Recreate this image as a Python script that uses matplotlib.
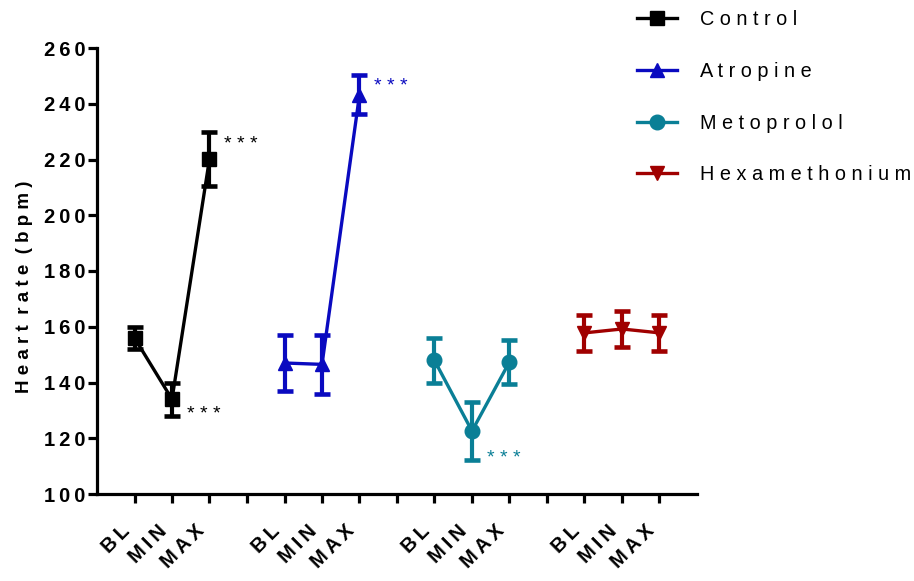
import matplotlib
matplotlib.use("Agg")
import matplotlib.pyplot as plt
from matplotlib.transforms import ScaledTranslation

plt.rcParams['font.family'] = ['Liberation Sans', 'DejaVu Sans']

# groups and conditions
groups = ["Control", "Atropine", "Metoprolol", "Hexamethonium"]
conditions = ["BL", "MIN", "MAX"]

# mean heart rate (bpm) and error
control = [156.0, 134.0, 220.2]
control_err = [4.0, 6.0, 9.8]
atropine = [147.0, 146.5, 243.2]
atropine_err = [10.0, 10.5, 7.0]
metoprolol = [147.9, 122.6, 147.4]
metoprolol_err = [8.0, 10.5, 8.0]
hexamethonium = [157.8, 159.2, 157.8]
hexamethonium_err = [6.5, 6.3, 6.5]

# significance marks: (group index, condition index)
signif = [(0, 1), (0, 2), (1, 2), (2, 1)]

colors = ["#000000", "#0A0AC0", "#0A7F96", "#A00000"]
markers = ["s", "^", "o", "v"]


def spaced(s, sep=" "):
    # wide letter spacing like the original
    out = sep.join(s)
    return out.replace(sep + " " + sep, "  ")


means = [control, atropine, metoprolol, hexamethonium]
errs = [control_err, atropine_err, metoprolol_err, hexamethonium_err]

fig = plt.figure(figsize=(9.14, 5.81), dpi=100)
ax = fig.add_axes([97 / 914, 1 - 494 / 581, 600 / 914, 446 / 581])

xpos_all = []
for g in range(len(groups)):
    xs = [4 * g + 1 + i for i in range(len(conditions))]
    xpos_all.append(xs)
    ax.errorbar(xs, means[g], yerr=errs[g], fmt="none", ecolor=colors[g],
                elinewidth=3, capsize=6, capthick=3.3, zorder=3)
    ax.plot(xs, means[g], color=colors[g], lw=2.4, marker=markers[g],
            ms=10.5, label=spaced(groups[g]), zorder=4)

# stars
for g, i in signif:
    x = xpos_all[g][i] + 0.4
    if (g, i) == (0, 2):
        y = means[g][i] + errs[g][i] - 4.5
    elif (g, i) == (1, 2):
        y = means[g][i] + errs[g][i] - 4
    else:
        y = means[g][i] - errs[g][i] + 0.5
    ax.text(x, y, "* * *", color=colors[g], fontsize=14, ha="left", va="center")

ax.set_xlim(0, 16)
ax.set_ylim(100, 260)
ax.set_yticks(range(100, 261, 20))
ax.set_yticklabels([spaced(str(v), "\u2009") for v in range(100, 261, 20)],
                   fontsize=14.5, fontweight="bold")

# x ticks at every slot, rotated labels drawn by hand under the data slots
ax.set_xticks(list(range(1, 16)))
ax.set_xticklabels([])
lab_tr = ax.get_xaxis_transform() + ScaledTranslation(-0.08, -0.34, fig.dpi_scale_trans)
for g in range(len(groups)):
    for i, c in enumerate(conditions):
        ax.text(xpos_all[g][i], 0, spaced(c, "\u2009"), transform=lab_tr,
                rotation=45, ha="right", va="center", rotation_mode="anchor",
                fontsize=14.5, fontweight="bold", clip_on=False)

ax.spines["top"].set_visible(False)
ax.spines["right"].set_visible(False)
ax.spines["left"].set_linewidth(2.3)
ax.spines["bottom"].set_linewidth(2.3)
ax.tick_params(axis="both", length=6.5, width=2.3, color="black")
ax.tick_params(axis="y", pad=2)

ax.set_ylabel(spaced("Heart rate (bpm)"), fontsize=13.5, fontweight="bold")
ax.yaxis.set_label_coords(-0.107, 0.464)

ax.legend(loc="upper left", bbox_to_anchor=(637 / 914, 1 - 10 / 581),
          bbox_transform=fig.transFigure, frameon=False, fontsize=14.3,
          handlelength=2.0, handletextpad=1.15, labelspacing=1.65, borderpad=0,
          borderaxespad=0)

fig.savefig("out.png", dpi=100)
